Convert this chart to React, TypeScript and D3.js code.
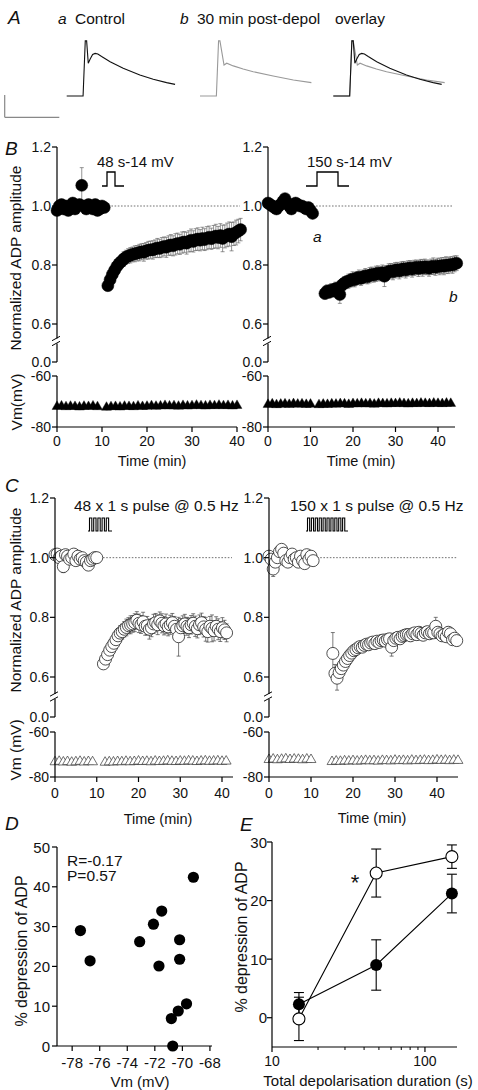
import React from "react";
import * as d3 from "d3";

const FONT = "'Liberation Sans', Arial, Helvetica, sans-serif";
const W = 478;
const H = 1090;

// ---------------- Panel A: example traces (ms, mV above baseline)
const ctrlTraceT = [0, 60, 68, 73, 79, 86, 95, 104, 114, 128, 159, 207, 268, 317, 366, 397];
const ctrlTraceV = [0, 0, 24.7, 24.7, 14.7, 16.6, 18.6, 19.1, 18.8, 17.7, 15.4, 12.4, 9.4, 7.5, 6.0, 5.2];
const postTraceT = [0, 60, 68, 73, 88, 98, 122, 158, 195, 268, 342, 408];
const postTraceV = [0, 0, 24.7, 24.7, 13.9, 14.7, 13.5, 12.1, 10.9, 9.0, 7.2, 6.0];
const scaleBarMs = 200;
const scaleBarMv = 10;

// ---------------- Panel B (48 s / 150 s step depolarisation), normalized ADP amplitude
const timeTicks = [0, 10, 20, 30, 40];
const ratioTicks = [0.6, 0.8, 1.0, 1.2];

const bL_baseT0 = 0;
const bL_baseVals = [0.985, 1.0, 1.005, 0.99, 1.0, 0.985, 1.0, 1.01, 0.99, 1.0, 1.005, 1.07, 1.0, 0.99, 1.005, 1.0, 0.99, 1.005, 0.985, 0.99, 1.0, 0.995];
const bL_baseErr = [0.012, 0.01, 0.012, 0.01, 0.012, 0.01, 0.011, 0.012, 0.01, 0.011, 0.012, 0.06, 0.011, 0.01, 0.012, 0.011, 0.01, 0.012, 0.011, 0.01, 0.012, 0.011];
const bL_postT0 = 11.3;
const bL_postVals = [
  0.730, 0.750, 0.768, 0.782, 0.795, 0.805, 0.812, 0.820, 0.826, 0.830,
  0.833, 0.836, 0.838, 0.840, 0.842, 0.845, 0.843, 0.848, 0.850, 0.852,
  0.851, 0.855, 0.858, 0.856, 0.860, 0.863, 0.860, 0.866, 0.868, 0.865,
  0.870, 0.873, 0.870, 0.876, 0.878, 0.874, 0.880, 0.884, 0.880, 0.886,
  0.888, 0.884, 0.890, 0.886, 0.891, 0.894, 0.889, 0.895, 0.898, 0.893,
  0.900, 0.890, 0.897, 0.902, 0.905, 0.896, 0.906, 0.910, 0.915, 0.920,
];
const bL_postErr = [
  0.015, 0.018, 0.020, 0.020, 0.022, 0.020, 0.022, 0.025, 0.024, 0.025,
  0.026, 0.025, 0.027, 0.026, 0.028, 0.027, 0.030, 0.028, 0.030, 0.029,
  0.031, 0.030, 0.032, 0.031, 0.033, 0.032, 0.034, 0.033, 0.035, 0.034,
  0.036, 0.035, 0.034, 0.036, 0.035, 0.037, 0.036, 0.038, 0.036, 0.037,
  0.038, 0.036, 0.038, 0.037, 0.039, 0.038, 0.036, 0.039, 0.040, 0.038,
  0.040, 0.045, 0.039, 0.040, 0.041, 0.048, 0.040, 0.042, 0.040, 0.038,
];
const bL_vmBaseT0 = 0;
const bL_vmBase = [-72.0, -71.8, -72.1, -71.9, -72.0, -72.2, -71.9, -72.0, -71.8, -72.1];
const bL_vmPostT0 = 11;
const bL_vmPost = [-72.3, -72.1, -72.0, -72.2, -71.9, -72.0, -72.1, -71.8, -72.0, -71.9, -71.7, -71.9, -71.8, -71.6, -71.8, -71.7, -71.9, -71.6, -71.8, -71.7, -71.5, -71.7, -71.8, -71.6, -71.7, -71.5, -71.7, -71.6, -71.8, -71.6];

const bR_baseT0 = 0;
const bR_baseVals = [1.01, 1.005, 1.0, 0.995, 0.99, 1.0, 1.005, 1.015, 1.025, 1.01, 1.0, 0.99, 1.005, 1.01, 1.005, 1.0, 1.0, 0.995, 0.99, 0.995, 0.985, 0.975];
const bR_baseErr = [0.01, 0.01, 0.011, 0.01, 0.012, 0.01, 0.011, 0.01, 0.012, 0.01, 0.011, 0.01, 0.01, 0.012, 0.01, 0.011, 0.01, 0.01, 0.012, 0.01, 0.011, 0.012];
const bR_postT0 = 13.4;
const bR_postVals = [
  0.703, 0.712, 0.708, 0.715, 0.712, 0.720, 0.718, 0.700, 0.732, 0.738,
  0.742, 0.745, 0.748, 0.752, 0.750, 0.756, 0.758, 0.755, 0.760, 0.763,
  0.760, 0.765, 0.768, 0.766, 0.770, 0.772, 0.770, 0.774, 0.762, 0.773,
  0.778, 0.780, 0.777, 0.782, 0.784, 0.780, 0.785, 0.787, 0.783, 0.788,
  0.790, 0.786, 0.790, 0.792, 0.788, 0.793, 0.790, 0.794, 0.792, 0.789,
  0.794, 0.796, 0.792, 0.797, 0.795, 0.798, 0.796, 0.800, 0.798, 0.802,
  0.800, 0.804, 0.806,
];
const bR_postErr = [
  0.018, 0.020, 0.020, 0.022, 0.020, 0.022, 0.021, 0.030, 0.022, 0.023,
  0.022, 0.024, 0.023, 0.025, 0.024, 0.022, 0.025, 0.024, 0.023, 0.025,
  0.024, 0.026, 0.025, 0.024, 0.026, 0.025, 0.024, 0.026, 0.035, 0.025,
  0.026, 0.025, 0.027, 0.026, 0.025, 0.027, 0.026, 0.025, 0.027, 0.026,
  0.025, 0.027, 0.026, 0.025, 0.027, 0.026, 0.028, 0.026, 0.025, 0.027,
  0.026, 0.028, 0.027, 0.026, 0.028, 0.027, 0.029, 0.028, 0.027, 0.026,
  0.028, 0.027, 0.025,
];
const bR_vmBaseT0 = 0;
const bR_vmBase = [-71.2, -71.0, -71.3, -71.1, -71.0, -71.2, -70.9, -71.1, -71.0, -71.2, -71.1];
const bR_vmPostT0 = 12;
const bR_vmPost = [-71.3, -71.1, -71.2, -71.0, -71.1, -70.9, -71.0, -71.2, -70.9, -71.0, -70.8, -71.0, -70.9, -71.1, -70.8, -70.9, -71.0, -70.8, -70.9, -70.7, -70.9, -71.0, -70.8, -70.9, -70.7, -70.8, -70.9, -70.7, -70.8, -70.9, -70.7, -70.8];

// ---------------- Panel C (pulse trains)
const cL_baseT0 = 0;
const cL_baseVals = [1.01, 1.012, 1.0, 1.005, 0.97, 1.01, 1.005, 0.995, 1.0, 1.012, 0.99, 1.005, 0.995, 1.0, 0.99, 0.985, 0.975, 0.99, 0.995, 1.0, 1.0];
const cL_baseErr = [0.01, 0.01, 0.01, 0.01, 0.02, 0.01, 0.012, 0.01, 0.011, 0.01, 0.012, 0.01, 0.011, 0.01, 0.012, 0.011, 0.015, 0.01, 0.011, 0.01, 0.01];
const cL_postT0 = 11.6;
const cL_postVals = [
  0.644, 0.660, 0.675, 0.690, 0.702, 0.713, 0.725, 0.738, 0.747, 0.752,
  0.760, 0.766, 0.772, 0.775, 0.778, 0.782, 0.790, 0.780, 0.776, 0.785,
  0.770, 0.772, 0.760, 0.765, 0.778, 0.782, 0.775, 0.788, 0.780, 0.772,
  0.778, 0.768, 0.775, 0.782, 0.770, 0.760, 0.735, 0.765, 0.772, 0.778,
  0.770, 0.765, 0.775, 0.780, 0.770, 0.762, 0.775, 0.782, 0.768, 0.760,
  0.752, 0.770, 0.763, 0.755, 0.770, 0.760, 0.752, 0.765, 0.758, 0.748,
];
const cL_postErr = [
  0.012, 0.015, 0.018, 0.020, 0.020, 0.022, 0.022, 0.024, 0.025, 0.025,
  0.026, 0.028, 0.027, 0.030, 0.028, 0.030, 0.029, 0.031, 0.030, 0.032,
  0.030, 0.031, 0.033, 0.030, 0.032, 0.031, 0.033, 0.030, 0.032, 0.031,
  0.033, 0.030, 0.032, 0.031, 0.033, 0.032, 0.065, 0.031, 0.033, 0.032,
  0.030, 0.033, 0.031, 0.032, 0.034, 0.031, 0.033, 0.032, 0.034, 0.040,
  0.035, 0.033, 0.045, 0.034, 0.032, 0.035, 0.033, 0.034, 0.032, 0.030,
];
const cL_vmBaseT0 = 0;
const cL_vmBase = [-73.3, -73.1, -73.4, -73.2, -73.5, -73.3, -73.1, -73.4, -73.2, -73.3];
const cL_vmPostT0 = 12;
const cL_vmPost = [-73.5, -73.3, -73.4, -73.2, -73.3, -73.1, -73.3, -73.2, -73.0, -73.2, -73.1, -73.3, -73.0, -73.2, -73.1, -72.9, -73.1, -73.2, -73.0, -73.1, -72.9, -73.0, -73.2, -73.0, -72.9, -73.1, -73.0, -72.9, -73.1, -73.0];

const cR_baseT0 = 0;
const cR_baseVals = [1.005, 0.995, 0.962, 0.985, 1.0, 1.02, 1.028, 1.015, 0.99, 0.985, 1.0, 1.012, 0.995, 1.0, 0.985, 1.005, 0.99, 0.98, 1.01, 0.995, 1.005, 0.99];
const cR_baseErr = [0.012, 0.012, 0.025, 0.012, 0.013, 0.012, 0.014, 0.012, 0.013, 0.012, 0.012, 0.013, 0.012, 0.013, 0.012, 0.012, 0.014, 0.012, 0.013, 0.02, 0.012, 0.013];
const cR_postT0 = 15.2;
const cR_postVals = [
  0.679, 0.612, 0.596, 0.615, 0.628, 0.640, 0.652, 0.662, 0.672, 0.680,
  0.688, 0.692, 0.698, 0.702, 0.700, 0.706, 0.710, 0.708, 0.714, 0.717,
  0.712, 0.720, 0.716, 0.722, 0.724, 0.720, 0.726, 0.728, 0.700, 0.722,
  0.730, 0.733, 0.728, 0.736, 0.739, 0.742, 0.742, 0.738, 0.745, 0.748,
  0.742, 0.750, 0.746, 0.740, 0.748, 0.752, 0.745, 0.750, 0.748, 0.770,
  0.750, 0.745, 0.738, 0.742, 0.735, 0.750, 0.745, 0.725, 0.730, 0.722,
];
const cR_postErr = [
  0.070, 0.030, 0.040, 0.028, 0.025, 0.024, 0.022, 0.020, 0.020, 0.018,
  0.018, 0.017, 0.018, 0.016, 0.018, 0.017, 0.016, 0.018, 0.017, 0.016,
  0.018, 0.016, 0.017, 0.018, 0.016, 0.017, 0.016, 0.018, 0.030, 0.017,
  0.016, 0.018, 0.017, 0.016, 0.018, 0.017, 0.016, 0.018, 0.017, 0.016,
  0.018, 0.017, 0.016, 0.018, 0.017, 0.016, 0.018, 0.017, 0.016, 0.030,
  0.017, 0.016, 0.018, 0.017, 0.016, 0.018, 0.017, 0.016, 0.018, 0.017,
];
const cR_vmBaseT0 = 0;
const cR_vmBase = [-72.3, -72.1, -72.4, -72.2, -72.0, -72.3, -72.1, -72.2, -72.4, -72.1, -72.3];
const cR_vmPostT0 = 15;
const cR_vmPost = [-73.2, -73.0, -73.1, -72.9, -73.0, -72.8, -73.0, -72.9, -72.7, -72.9, -72.8, -73.0, -72.7, -72.8, -72.9, -72.6, -72.8, -72.7, -72.9, -72.6, -72.8, -72.7, -72.6, -72.8, -72.7, -72.5, -72.7, -72.6, -72.8, -72.6, -72.7];

const SAMPLE_STEP = 0.5; // min between ADP samples
const VM_STEP = 1; // min between Vm samples
const VM_ERR = 1.0;

// ---------------- Panel D
const dVm = [-77.4, -76.7, -73.1, -72.1, -71.5, -71.7, -70.2, -70.2, -69.2, -69.7, -70.3, -70.8, -70.7];
const dDep = [29.0, 21.4, 26.2, 30.6, 33.9, 20.1, 26.7, 21.8, 42.4, 10.6, 8.8, 6.9, 0.0];
const dYTicks = [0, 10, 20, 30, 40, 50];
const dXTicks = [-78, -76, -74, -72, -70, -68];

// ---------------- Panel E
const eDur = [15, 48, 150];
const eStep = [2.3, 9.0, 21.2];
const eStepErr = [2.0, 4.3, 3.3];
const ePulse = [-0.2, 24.7, 27.5];
const ePulseErr = [3.7, 4.1, 2.0];
const eYTicks = [0, 10, 20, 30];
const eXMajor = [10, 100];
const eXMinor = [20, 30, 40, 50, 60, 70, 80, 90];

// ============================================================
const txt = (extra: any = {}) => ({ fontFamily: FONT, fill: "#111", ...extra });

function pulsePath(x0: number, x1: number, n: number, yb: number, yt: number) {
  const lead = 1.5;
  const period = (x1 - x0 - 2 * lead) / n;
  let d = `M${x0},${yb}`;
  for (let i = 0; i < n; i++) {
    const xs = x0 + lead + i * period;
    d += ` L${xs},${yb} L${xs},${yt} L${xs + period * 0.55},${yt} L${xs + period * 0.55},${yb}`;
  }
  d += ` L${x1},${yb}`;
  return d;
}

type TCProps = {
  x0: number; x1: number; xMax: number; axisEnd: number;
  y12: number; y06: number; yZ: number; brk: [number, number];
  vm60: number; vm80: number; dotEnd: number; filled: boolean;
  baseT0: number; baseVals: number[]; baseErr: number[];
  postT0: number; postVals: number[]; postErr: number[];
  vmBaseT0: number; vmBase: number[]; vmPostT0: number; vmPost: number[];
  tickLabelY: number; timeLabelX: number; timeLabelY: number;
};

function TimeCourse(p: TCProps) {
  const x = d3.scaleLinear().domain([0, p.xMax]).range([p.x0, p.x1]);
  const y = d3.scaleLinear().domain([0.6, 1.2]).range([p.y06, p.y12]);
  const vm = d3.scaleLinear().domain([-80, -60]).range([p.vm80, p.vm60]);
  const pts = [
    ...p.baseVals.map((v, i) => ({ t: p.baseT0 + i * SAMPLE_STEP, v, e: p.baseErr[i] ?? 0.01 })),
    ...p.postVals.map((v, i) => ({ t: p.postT0 + i * SAMPLE_STEP, v, e: p.postErr[i] ?? 0.02 })),
  ];
  const vms = [
    ...p.vmBase.map((v, i) => ({ t: p.vmBaseT0 + i * VM_STEP, v })),
    ...p.vmPost.map((v, i) => ({ t: p.vmPostT0 + i * VM_STEP, v })),
  ];
  const tri = d3.symbol().type(d3.symbolTriangle).size(42)();
  const ax = p.x0;
  const barColor = p.filled ? "#666" : "#444";
  return (
    <g>
      {/* reference line */}
      <line x1={ax} x2={p.dotEnd} y1={y(1.0)} y2={y(1.0)} stroke="#333" strokeWidth={0.7} strokeDasharray="1.6,1.6" />
      {/* error bars */}
      {pts.map((d, i) => (
        <g key={"e" + i} stroke={barColor} strokeWidth={0.7}>
          <line x1={x(d.t)} x2={x(d.t)} y1={y(d.v + d.e)} y2={y(d.v - d.e)} />
          <line x1={x(d.t) - 2} x2={x(d.t) + 2} y1={y(d.v + d.e)} y2={y(d.v + d.e)} />
          <line x1={x(d.t) - 2} x2={x(d.t) + 2} y1={y(d.v - d.e)} y2={y(d.v - d.e)} />
        </g>
      ))}
      {pts.map((d, i) => (
        <circle key={"c" + i} cx={x(d.t)} cy={y(d.v)} r={6}
          fill={p.filled ? "#000" : "#fff"} stroke={p.filled ? "#000" : "#222"} strokeWidth={p.filled ? 0.5 : 0.8} />
      ))}
      {/* Vm */}
      {vms.map((d, i) => (
        <g key={"ve" + i} stroke={p.filled ? "#777" : "#555"} strokeWidth={0.6}>
          <line x1={x(d.t)} x2={x(d.t)} y1={vm(d.v + VM_ERR)} y2={vm(d.v - VM_ERR)} />
          <line x1={x(d.t) - 1.2} x2={x(d.t) + 1.2} y1={vm(d.v - VM_ERR)} y2={vm(d.v - VM_ERR)} />
        </g>
      ))}
      {vms.map((d, i) => (
        <path key={"vt" + i} d={tri as string} transform={`translate(${x(d.t)},${vm(d.v)})`}
          fill={p.filled ? "#000" : "#fff"} stroke={p.filled ? "#000" : "#333"} strokeWidth={p.filled ? 0.4 : 0.7} />
      ))}
      {/* y axis: ratio part */}
      <g stroke="#000" strokeWidth={1.2} fill="none">
        <line x1={ax} x2={ax} y1={y(1.2)} y2={p.brk[0]} />
        <line x1={ax} x2={ax} y1={p.brk[1]} y2={p.yZ} />
        <line x1={ax - 5} x2={ax + 3} y1={p.brk[0] + 2.2} y2={p.brk[0] - 2.2} strokeWidth={1} />
        <line x1={ax - 5} x2={ax + 3} y1={p.brk[1] + 2.2} y2={p.brk[1] - 2.2} strokeWidth={1} />
        {ratioTicks.map((t) => <line key={t} x1={ax - 5} x2={ax} y1={y(t)} y2={y(t)} />)}
        <line x1={ax - 5} x2={ax} y1={p.yZ} y2={p.yZ} />
        {/* Vm axis */}
        <line x1={ax} x2={ax} y1={vm(-60)} y2={vm(-80)} />
        <line x1={ax - 5} x2={ax} y1={vm(-60)} y2={vm(-60)} />
        <line x1={ax - 5} x2={ax} y1={vm(-80)} y2={vm(-80)} />
        {/* time axis */}
        <line x1={ax} x2={p.axisEnd} y1={vm(-80)} y2={vm(-80)} />
        {timeTicks.map((t) => <line key={"tt" + t} x1={x(t)} x2={x(t)} y1={vm(-80)} y2={vm(-80) + 5} />)}
      </g>
      <g style={txt({ fontSize: "14px" })} textAnchor="end">
        {ratioTicks.map((t) => (
          <text key={t} x={ax - 6} y={y(t) + 5}>{t.toFixed(1)}</text>
        ))}
        <text x={ax - 6} y={p.yZ + 5}>0.0</text>
        <text x={ax - 6} y={vm(-60) + 5}>-60</text>
        <text x={ax - 6} y={vm(-80) + 5}>-80</text>
      </g>
      <g style={txt({ fontSize: "14px" })} textAnchor="middle">
        {timeTicks.map((t) => (
          <text key={t} x={x(t)} y={p.tickLabelY}>{t}</text>
        ))}
        <text x={p.timeLabelX} y={p.timeLabelY} style={{ fontSize: "14.5px" }}>Time (min)</text>
      </g>
    </g>
  );
}

function Traces() {
  const tx = d3.scaleLinear().domain([0, scaleBarMs]).range([0, 54.6]);
  const ty = d3.scaleLinear().domain([0, scaleBarMv]).range([0, -22.3]);
  const ctrl = d3.line<number>().x((_, i) => tx(ctrlTraceT[i])).y((v) => ty(v))(ctrlTraceV) as string;
  const post = d3.line<number>().x((_, i) => tx(postTraceT[i])).y((v) => ty(v))(postTraceV) as string;
  const baseY = 96;
  const origins = [66.7, 200, 333.3];
  return (
    <g>
      <g transform={`translate(${origins[0]},${baseY})`}>
        <path d={ctrl} fill="none" stroke="#111" strokeWidth={1.1} />
      </g>
      <g transform={`translate(${origins[1]},${baseY})`}>
        <path d={post} fill="none" stroke="#999" strokeWidth={1.1} />
      </g>
      <g transform={`translate(${origins[2]},${baseY})`}>
        <path d={post} fill="none" stroke="#999" strokeWidth={1.1} />
        <path d={ctrl} fill="none" stroke="#111" strokeWidth={1.1} />
      </g>
      {/* scale bar */}
      <g transform="translate(4.7,117.3)" stroke="#888" strokeWidth={1.2} fill="none">
        <line x1={0} x2={0} y1={0} y2={ty(scaleBarMv)} />
        <line x1={0} x2={tx(scaleBarMs)} y1={0} y2={0} />
      </g>
    </g>
  );
}

function PanelD() {
  const x = d3.scaleLinear().domain([-79.1, -67.85]).range([57, 212]);
  const y = d3.scaleLinear().domain([0, 50]).range([1046, 847]);
  return (
    <g>
      {dVm.map((v, i) => (
        <circle key={i} cx={x(v)} cy={y(dDep[i])} r={5.6} fill="#000" />
      ))}
      <g stroke="#000" strokeWidth={1.2}>
        <line x1={57} x2={57} y1={y(50)} y2={y(0)} />
        <line x1={57} x2={212} y1={y(0)} y2={y(0)} />
        {dYTicks.map((t) => <line key={t} x1={52} x2={57} y1={y(t)} y2={y(t)} />)}
        {dXTicks.map((t) => <line key={t} x1={x(t)} x2={x(t)} y1={y(0)} y2={y(0) + 5} />)}
      </g>
      <g style={txt({ fontSize: "15px" })} textAnchor="end">
        {dYTicks.map((t) => <text key={t} x={50} y={y(t) + 5.5}>{t}</text>)}
      </g>
      <g style={txt({ fontSize: "15px" })} textAnchor="middle">
        {dXTicks.map((t) => <text key={t} x={x(t)} y={1068}>{t}</text>)}
        <text x={140} y={1087}>Vm (mV)</text>
      </g>
      <text x={67} y={866} style={txt({ fontSize: "15.5px" })}>R=-0.17</text>
      <text x={67} y={881} style={txt({ fontSize: "15.5px" })}>P=0.57</text>
      <text transform="translate(27,951) rotate(-90)" textAnchor="middle" style={txt({ fontSize: "16px" })}>% depression of ADP</text>
    </g>
  );
}

function PanelE() {
  const x = d3.scaleLog().domain([10, 162]).range([272, 457]);
  const y = d3.scaleLinear().domain([-5, 30]).range([1047, 842]);
  const line = d3.line<number>().x((_, i) => x(eDur[i])).y((v) => y(v));
  const bars = (vals: number[], errs: number[], key: string) =>
    vals.map((v, i) => (
      <g key={key + i} stroke="#000" strokeWidth={1.1}>
        <line x1={x(eDur[i])} x2={x(eDur[i])} y1={y(v + errs[i])} y2={y(v - errs[i])} />
        <line x1={x(eDur[i]) - 5} x2={x(eDur[i]) + 5} y1={y(v + errs[i])} y2={y(v + errs[i])} />
        <line x1={x(eDur[i]) - 5} x2={x(eDur[i]) + 5} y1={y(v - errs[i])} y2={y(v - errs[i])} />
      </g>
    ));
  return (
    <g>
      <path d={line(ePulse) as string} fill="none" stroke="#000" strokeWidth={1.1} />
      <path d={line(eStep) as string} fill="none" stroke="#000" strokeWidth={1.1} />
      {bars(ePulse, ePulseErr, "o")}
      {bars(eStep, eStepErr, "f")}
      {ePulse.map((v, i) => <circle key={"o" + i} cx={x(eDur[i])} cy={y(v)} r={6} fill="#fff" stroke="#000" strokeWidth={1.1} />)}
      {eStep.map((v, i) => <circle key={"f" + i} cx={x(eDur[i])} cy={y(v)} r={6} fill="#000" />)}
      <g stroke="#000" strokeWidth={1.2}>
        <line x1={272} x2={272} y1={y(30)} y2={y(-5)} />
        <line x1={272} x2={457} y1={y(-5)} y2={y(-5)} />
        {eYTicks.map((t) => <line key={t} x1={267} x2={272} y1={y(t)} y2={y(t)} />)}
        {eXMajor.map((t) => <line key={t} x1={x(t)} x2={x(t)} y1={y(-5)} y2={y(-5) + 5} />)}
        {eXMinor.map((t) => <line key={t} x1={x(t)} x2={x(t)} y1={y(-5)} y2={y(-5) + 3} strokeWidth={1} />)}
      </g>
      <g style={txt({ fontSize: "15px" })} textAnchor="end">
        {eYTicks.map((t) => <text key={t} x={267} y={y(t) + 5.5}>{t}</text>)}
      </g>
      <g style={txt({ fontSize: "14px" })} textAnchor="middle">
        {eXMajor.map((t) => <text key={t} x={x(t)} y={1066}>{t}</text>)}
      </g>
      <text x={368} y={1086} textAnchor="middle" style={txt({ fontSize: "15px" })}>Total depolarisation duration (s)</text>
      <text x={355} y={890} textAnchor="middle" style={txt({ fontSize: "22px" })}>*</text>
      <text transform="translate(247,937) rotate(-90)" textAnchor="middle" style={txt({ fontSize: "16px" })}>% depression of ADP</text>
    </g>
  );
}

export default function App() {
  const letter = txt({ fontSize: "19px", fontStyle: "italic" });
  const head = txt({ fontSize: "15.5px" });
  return (
    <svg width={W} height={H} viewBox={`0 0 ${W} ${H}`}
      style={{ position: "absolute", left: 0, top: 0, display: "block", background: "#fff" }}>
      <rect x={0} y={0} width={W} height={H} fill="#fff" />
      {/* Panel A */}
      <text x={8} y={24} style={letter}>A</text>
      <text x={58} y={24} style={{ ...head, fontStyle: "italic" }}>a</text>
      <text x={75} y={24} style={head}>Control</text>
      <text x={180} y={24} style={{ ...head, fontStyle: "italic" }}>b</text>
      <text x={197} y={24} style={head}>30 min post-depol</text>
      <text x={335} y={24} style={head}>overlay</text>
      <Traces />

      {/* Panel B */}
      <text x={5} y={155} style={letter}>B</text>
      <TimeCourse x0={57} x1={237} xMax={40} axisEnd={237}
        y12={147} y06={324} yZ={362} brk={[338.5, 343.5]} vm60={376} vm80={427} dotEnd={240} filled={true}
        baseT0={bL_baseT0} baseVals={bL_baseVals} baseErr={bL_baseErr}
        postT0={bL_postT0} postVals={bL_postVals} postErr={bL_postErr}
        vmBaseT0={bL_vmBaseT0} vmBase={bL_vmBase} vmPostT0={bL_vmPostT0} vmPost={bL_vmPost}
        tickLabelY={446} timeLabelX={152} timeLabelY={466} />
      <TimeCourse x0={268} x1={438} xMax={40} axisEnd={455}
        y12={147} y06={324} yZ={362} brk={[338.5, 343.5]} vm60={376} vm80={427} dotEnd={453} filled={true}
        baseT0={bR_baseT0} baseVals={bR_baseVals} baseErr={bR_baseErr}
        postT0={bR_postT0} postVals={bR_postVals} postErr={bR_postErr}
        vmBaseT0={bR_vmBaseT0} vmBase={bR_vmBase} vmPostT0={bR_vmPostT0} vmPost={bR_vmPost}
        tickLabelY={446} timeLabelX={361} timeLabelY={466} />
      <text x={97} y={167} style={txt({ fontSize: "15px" })}>48 s-14 mV</text>
      <path d="M102,186 L107,186 L107,172 L115,172 L115,186 L124,186" fill="none" stroke="#000" strokeWidth={1.3} />
      <text x={307} y={167} style={txt({ fontSize: "15px" })}>150 s-14 mV</text>
      <path d="M306,186 L317,186 L317,172 L338,172 L338,186 L349,186" fill="none" stroke="#000" strokeWidth={1.3} />
      <text x={313} y={242} style={{ ...head, fontStyle: "italic" }}>a</text>
      <text x={449} y={302} style={{ ...head, fontStyle: "italic" }}>b</text>
      <text transform="translate(21,258) rotate(-90)" textAnchor="middle" style={txt({ fontSize: "15.5px" })}>Normalized ADP amplitude</text>
      <text transform="translate(22,402) rotate(-90)" textAnchor="middle" style={txt({ fontSize: "15.5px" })}>Vm(mV)</text>

      {/* Panel C */}
      <text x={5} y={492} style={letter}>C</text>
      <TimeCourse x0={55} x1={222} xMax={40} axisEnd={233}
        y12={498} y06={677} yZ={717} brk={[694, 699]} vm60={732} vm80={777} dotEnd={232} filled={false}
        baseT0={cL_baseT0} baseVals={cL_baseVals} baseErr={cL_baseErr}
        postT0={cL_postT0} postVals={cL_postVals} postErr={cL_postErr}
        vmBaseT0={cL_vmBaseT0} vmBase={cL_vmBase} vmPostT0={cL_vmPostT0} vmPost={cL_vmPost}
        tickLabelY={798} timeLabelX={158} timeLabelY={824} />
      <TimeCourse x0={269} x1={437} xMax={40} axisEnd={458}
        y12={498} y06={677} yZ={717} brk={[694, 699]} vm60={732} vm80={777} dotEnd={457} filled={false}
        baseT0={cR_baseT0} baseVals={cR_baseVals} baseErr={cR_baseErr}
        postT0={cR_postT0} postVals={cR_postVals} postErr={cR_postErr}
        vmBaseT0={cR_vmBaseT0} vmBase={cR_vmBase} vmPostT0={cR_vmPostT0} vmPost={cR_vmPost}
        tickLabelY={798} timeLabelX={372} timeLabelY={823} />
      <text x={74} y={511} style={txt({ fontSize: "15.5px" })}>48 x 1 s pulse @ 0.5 Hz</text>
      <path d={pulsePath(88, 112, 5, 531, 518)} fill="none" stroke="#000" strokeWidth={1.1} />
      <text x={290} y={511} style={txt({ fontSize: "15.5px" })}>150 x 1 s pulse @ 0.5 Hz</text>
      <path d={pulsePath(306, 348, 10, 531, 518)} fill="none" stroke="#000" strokeWidth={1.1} />
      <text transform="translate(21,600) rotate(-90)" textAnchor="middle" style={txt({ fontSize: "15.5px" })}>Normalized ADP amplitude</text>
      <text transform="translate(21,750) rotate(-90)" textAnchor="middle" style={txt({ fontSize: "15.5px" })}>Vm (mV)</text>

      {/* Panel D */}
      <text x={5} y={830} style={letter}>D</text>
      <PanelD />

      {/* Panel E */}
      <text x={240} y={831} style={letter}>E</text>
      <PanelE />
    </svg>
  );
}
